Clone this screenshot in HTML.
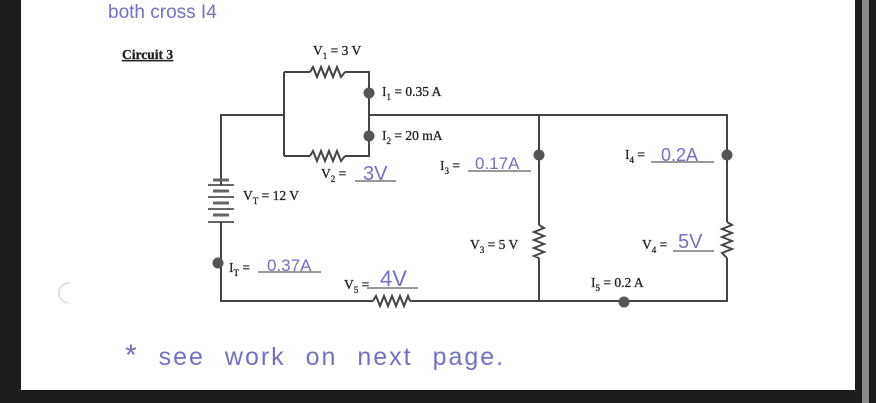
<!DOCTYPE html>
<html><head><meta charset="utf-8"><style>
html,body{margin:0;padding:0;background:#1c1c1e;}
svg{display:block}
.t{font-family:"Liberation Serif",serif;font-size:13.5px;fill:#222;stroke:#222;stroke-width:0.3px}
.s{font-size:9px}
.h{font-family:"Liberation Sans",sans-serif;fill:#7470c4;font-weight:300}
</style></head><body>
<svg width="876" height="403" xmlns="http://www.w3.org/2000/svg">
<rect x="0" y="0" width="876" height="403" fill="#1c1c1e"/>
<rect x="21" y="0" width="834" height="390" fill="#fff"/>
<rect x="862" y="0" width="7" height="403" fill="#8a8a8a"/>
<g stroke="#444" stroke-width="2" fill="none">
<path d="M221 185 V115 H284 M369 115 H727 V222 M727 258 V301 H410 M373 301 H221 V222"/>
<path d="M284 72 H310 M345 72 H369 V156 H345 M310 156 H284 Z"/>
<path d="M284 72 V156"/>
<path d="M539 115 V225 M539 258 V301"/>
<polyline points="310,72 313,67 317,77 321,67 325,77 329,67 333,77 337,67 341,77 345,72"/>
<polyline points="310,156 313,151 317,161 321,151 325,161 329,151 333,161 337,151 341,161 345,156"/>
<polyline points="373,301 376,296 380,306 384,296 388,306 392,296 396,306 400,296 404,306 408,296 410,301"/>
<polyline points="539,225 544,228 534,232 544,236 534,240 544,244 534,248 544,252 534,256 539,258"/>
<polyline points="727,222 732,225 722,229 732,233 722,237 732,241 722,245 732,249 722,253 727,258"/>
</g>
<g stroke="#333">
<line x1="208" y1="185" x2="234" y2="185" stroke-width="1.5"/>
<line x1="208" y1="197" x2="234" y2="197" stroke-width="1.5"/>
<line x1="208" y1="209" x2="234" y2="209" stroke-width="1.5"/>
<line x1="208" y1="222" x2="234" y2="222" stroke-width="1.5"/>
<line x1="213" y1="180" x2="229" y2="180" stroke-width="3" stroke="#666"/>
<line x1="213" y1="191" x2="229" y2="191" stroke-width="3" stroke="#666"/>
<line x1="213" y1="203" x2="229" y2="203" stroke-width="3" stroke="#666"/>
<line x1="213" y1="215" x2="229" y2="215" stroke-width="3" stroke="#666"/>
</g>
<g fill="#555">
<circle cx="369" cy="93" r="5.5"/><circle cx="369" cy="136" r="5.5"/>
<circle cx="539" cy="155" r="5.5"/><circle cx="727" cy="155" r="5.5"/>
<circle cx="218" cy="263" r="5.5"/><circle cx="624" cy="302" r="5.5"/>
</g>
<path d="M70 283 A10 10 0 0 0 68 303" stroke="#e4e4e4" stroke-width="2" fill="none"/>
<text class="h" x="108" y="18" font-size="19">both cross I4</text>
<text class="t" x="122" y="59" font-size="12" font-weight="bold" text-decoration="underline">Circuit 3</text>
<text class="t" x="313" y="55">V<tspan class="s" dy="4">1</tspan><tspan dy="-4"> = 3 V</tspan></text>
<text class="t" x="382" y="96">I<tspan class="s" dy="4">1</tspan><tspan dy="-4"> = 0.35 A</tspan></text>
<text class="t" x="382" y="140">I<tspan class="s" dy="4">2</tspan><tspan dy="-4"> = 20 mA</tspan></text>
<text class="t" x="321" y="178">V<tspan class="s" dy="4">2</tspan><tspan dy="-4"> =</tspan></text>
<text class="h" x="363" y="180" font-size="20">3V</text>
<line x1="355" y1="181" x2="396" y2="181" stroke="#333"/>
<text class="t" x="440" y="170">I<tspan class="s" dy="4">3</tspan><tspan dy="-4"> =</tspan></text>
<text class="h" x="475" y="169" font-size="17">0.17A</text>
<line x1="468" y1="171" x2="531" y2="171" stroke="#333"/>
<text class="t" x="625" y="159">I<tspan class="s" dy="4">4</tspan><tspan dy="-4"> =</tspan></text>
<text class="h" x="661" y="161" font-size="18">0.2A</text>
<line x1="651" y1="162" x2="714" y2="162" stroke="#333"/>
<text class="t" x="243" y="200">V<tspan class="s" dy="4">T</tspan><tspan dy="-4"> = 12 V</tspan></text>
<text class="t" x="229" y="272">I<tspan class="s" dy="4">T</tspan><tspan dy="-4"> =</tspan></text>
<text class="h" x="267" y="271" font-size="17">0.37A</text>
<line x1="258" y1="272" x2="321" y2="272" stroke="#333"/>
<text class="t" x="344" y="289">V<tspan class="s" dy="4">5</tspan><tspan dy="-4"> =</tspan></text>
<text class="h" x="380" y="286" font-size="22">4V</text>
<line x1="367" y1="288" x2="418" y2="288" stroke="#333"/>
<text class="t" x="470" y="249">V<tspan class="s" dy="4">3</tspan><tspan dy="-4"> = 5 V</tspan></text>
<text class="t" x="642" y="249">V<tspan class="s" dy="4">4</tspan><tspan dy="-4"> =</tspan></text>
<text class="h" x="678" y="248" font-size="20">5V</text>
<line x1="673" y1="251" x2="714" y2="251" stroke="#333"/>
<text class="t" x="591" y="287">I<tspan class="s" dy="4">5</tspan><tspan dy="-4"> = 0.2 A</tspan></text>
<text class="h" x="125" y="365" font-size="25" letter-spacing="2" word-spacing="11"><tspan font-size="30">*</tspan> see work on next page.</text>
</svg>
</body></html>
